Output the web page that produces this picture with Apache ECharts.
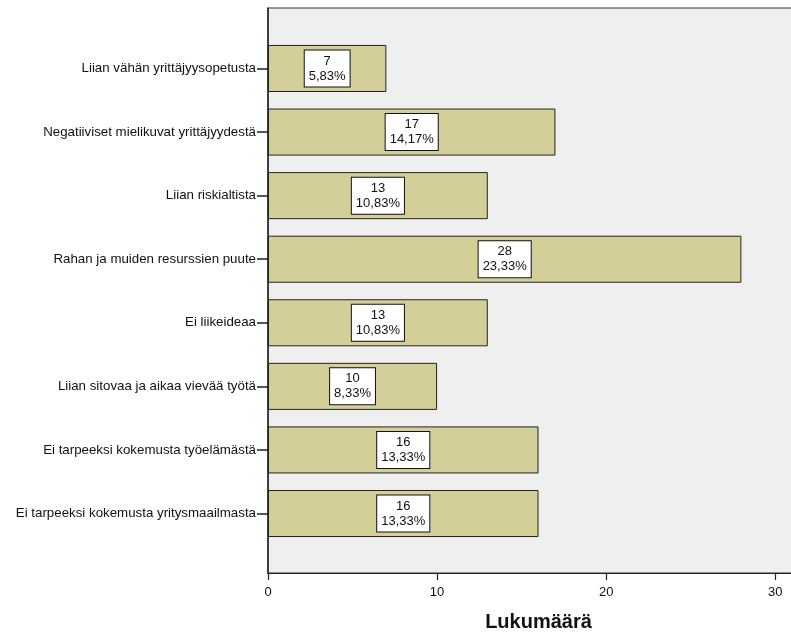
<!DOCTYPE html>
<html>
<head>
<meta charset="utf-8">
<script src="https://cdn.jsdelivr.net/npm/echarts@6/dist/echarts.min.js"></script>
<style>
html,body{margin:0;padding:0;background:#fff;}
#c{width:791px;height:632px;}
</style>
</head>
<body>
<div id="c"></div>
<script>
const categories = [
  "Liian vähän yrittäjyysopetusta",
  "Negatiiviset mielikuvat yrittäjyydestä",
  "Liian riskialtista",
  "Rahan ja muiden resurssien puute",
  "Ei liikeideaa",
  "Liian sitovaa ja aikaa vievää työtä",
  "Ei tarpeeksi kokemusta työelämästä",
  "Ei tarpeeksi kokemusta yritysmaailmasta"
];
const counts = [7, 17, 13, 28, 13, 10, 16, 16];
const percents = ["5,83%", "14,17%", "10,83%", "23,33%", "10,83%", "8,33%", "13,33%", "13,33%"];
const xTicks = [0, 10, 20, 30];
const xTitle = "Lukumäärä";

const FONT = "'Liberation Sans', Arial, sans-serif";
const chart = echarts.init(document.getElementById('c'), null, {renderer: 'canvas'});
const option = {
  animation: false,
  textStyle: {fontFamily: FONT},
  grid: [
    {left: 268, top: 8, width: 541, height: 565, show: true, backgroundColor: '#efefef', borderColor: '#333', borderWidth: 1, containLabel: false, outerBoundsMode: 'none'},
    {left: 268, top: 36.7, width: 541, height: 508.6, containLabel: false, outerBoundsMode: 'none'}
  ],
  xAxis: [
    {
      gridIndex: 0, type: 'value', min: 0, max: 32, interval: 10,
      axisLine: {show: true, lineStyle: {color: '#222', width: 1}},
      axisTick: {show: true, length: 7, lineStyle: {color: '#222', width: 1.2}},
      axisLabel: {fontSize: 13, color: '#111', margin: 13, fontFamily: FONT,
        formatter: v => xTicks.indexOf(v) >= 0 ? String(v) : ''},
      splitLine: {show: false},
      name: xTitle, nameLocation: 'middle', nameGap: 39,
      nameTextStyle: {fontSize: 20, fontWeight: 'bold', color: '#111', fontFamily: FONT}
    },
    {gridIndex: 1, type: 'value', min: 0, max: 32, show: false}
  ],
  yAxis: [
    {gridIndex: 0, type: 'value', min: 0, max: 1,
      axisLine: {show: true, lineStyle: {color: '#222', width: 1.5}},
      axisTick: {show: false}, axisLabel: {show: false}, splitLine: {show: false}},
    {gridIndex: 1, type: 'category', data: categories, inverse: true,
      axisLine: {show: false},
      axisTick: {show: true, alignWithLabel: true, length: 11, lineStyle: {color: '#222', width: 1.5}},
      axisLabel: {fontSize: 13.3, color: '#111', margin: 12, fontFamily: FONT},
      splitLine: {show: false}}
  ],
  series: [{
    type: 'bar', xAxisIndex: 1, yAxisIndex: 1,
    data: counts,
    barCategoryGap: '26%',
    itemStyle: {color: '#d4cf99', borderColor: '#222', borderWidth: 1},
    label: {
      show: true, position: 'inside',
      formatter: p => counts[p.dataIndex] + '\n' + percents[p.dataIndex],
      backgroundColor: '#fff', borderColor: '#111', borderWidth: 1,
      padding: [4, 4, 2, 4], lineHeight: 15, fontSize: 13, color: '#111',
      align: 'center', fontFamily: FONT
    }
  }]
};
chart.setOption(option);
</script>
</body>
</html>
